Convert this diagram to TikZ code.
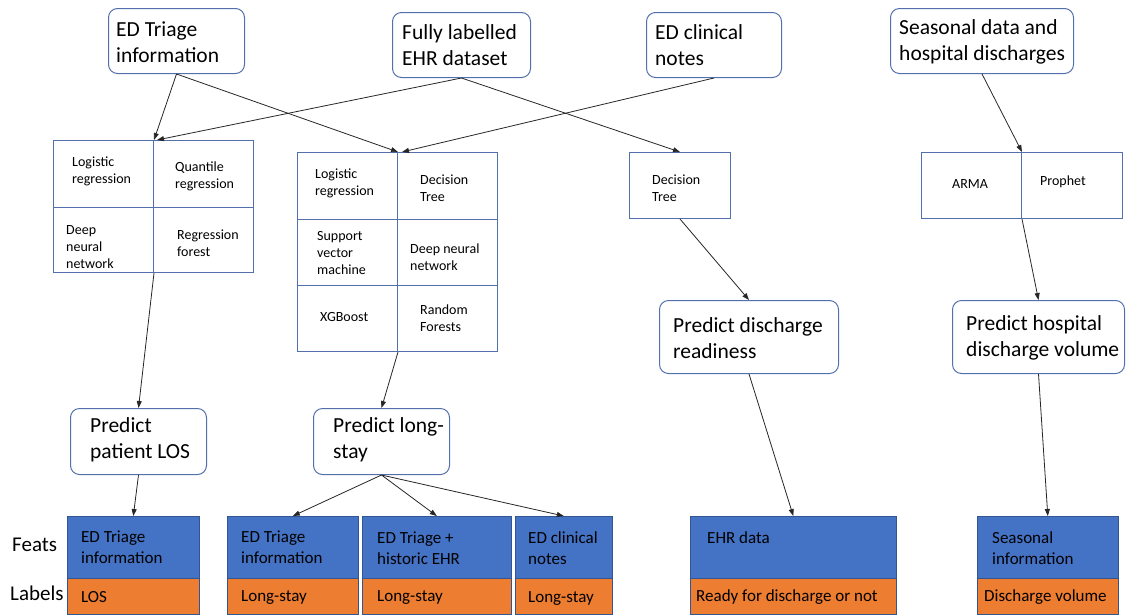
\documentclass[tikz,border=0pt]{standalone}
\usepackage{fontspec}
\setmainfont{Carlito}
\usetikzlibrary{arrows.meta}
\definecolor{edge}{RGB}{84,112,172}
\definecolor{featblue}{RGB}{68,114,196}
\definecolor{labelorange}{RGB}{237,125,49}
\begin{document}
\begin{tikzpicture}[x=1pt,y=-1pt,
  src/.style={draw=edge, line width=1pt, rounded corners=9pt, fill=white, anchor=north west, inner sep=0pt},
  cell/.style={draw=edge, line width=1pt, fill=white, anchor=north west, inner sep=0pt},
  feat/.style={draw=featblue!75!black, line width=0.6pt, fill=featblue, anchor=north west, inner sep=0pt, minimum height=62},
  lab/.style={draw=featblue!75!black, line width=0.6pt, fill=labelorange, anchor=north west, inner sep=0pt, minimum height=36},
  bigtxt/.style={anchor=west, align=left, inner sep=0pt, font=\fontsize{21.5}{26}\selectfont},
  smalltxt/.style={anchor=west, align=left, inner sep=0pt, font=\fontsize{14}{17}\selectfont},
  feattxt/.style={anchor=west, align=left, inner sep=0pt, font=\fontsize{17}{20.5}\selectfont},
  sidetxt/.style={anchor=west, inner sep=0pt, font=\fontsize{21}{25}\selectfont},
  arr/.style={-{Triangle[length=7pt,width=5pt]}, line width=0.8pt, black!85}]
\useasboundingbox (0,0) rectangle (1131,614);

% data sources
\node[src, minimum width=136, minimum height=65] (triage) at (108,8) {};
\node[src, minimum width=138, minimum height=65] (ehrset) at (392,12) {};
\node[src, minimum width=135, minimum height=65] (notes) at (646,12) {};
\node[src, minimum width=183, minimum height=65] (season) at (890,8) {};
\node[bigtxt] (triage-t) at (116,42) {ED Triage\\information};
\node[bigtxt] (ehrset-t) at (402,45) {Fully labelled\\EHR dataset};
\node[bigtxt] (notes-t) at (655,45) {ED clinical\\notes};
\node[bigtxt] (season-t) at (899,42) {Seasonal data and\\hospital discharges};

% LOS models
\node[cell, minimum width=100, minimum height=67] (lg11) at (53,140) {};
\node[cell, minimum width=100, minimum height=67] (lg12) at (153,140) {};
\node[cell, minimum width=100, minimum height=65] (lg21) at (53,207) {};
\node[cell, minimum width=100, minimum height=65] (lg22) at (153,207) {};
\node[smalltxt] (lg11-t) at (72,171) {Logistic\\regression};
\node[smalltxt] (lg12-t) at (175,176) {Quantile\\regression};
\node[smalltxt] (lg21-t) at (66,247) {Deep\\neural\\network};
\node[smalltxt] (lg22-t) at (177,243) {Regression\\forest};

% long-stay models
\node[cell, minimum width=100, minimum height=67] (mg11) at (297,152) {};
\node[cell, minimum width=100, minimum height=67] (mg12) at (397,152) {};
\node[cell, minimum width=100, minimum height=66] (mg21) at (297,219) {};
\node[cell, minimum width=100, minimum height=66] (mg22) at (397,219) {};
\node[cell, minimum width=100, minimum height=66] (mg31) at (297,285) {};
\node[cell, minimum width=100, minimum height=66] (mg32) at (397,285) {};
\node[smalltxt] (mg11-t) at (315,183) {Logistic\\regression};
\node[smalltxt] (mg12-t) at (420,188) {Decision\\Tree};
\node[smalltxt] (mg21-t) at (317,253) {Support\\vector\\machine};
\node[smalltxt] (mg22-t) at (410,257) {Deep neural\\network};
\node[smalltxt] (mg31-t) at (320,317) {XGBoost};
\node[smalltxt] (mg32-t) at (420,318) {Random\\Forests};

% discharge readiness model
\node[cell, minimum width=101, minimum height=66] (dt) at (629,152) {};
\node[smalltxt] (dt-t) at (652,188) {Decision\\Tree};

% discharge volume models
\node[cell, minimum width=100, minimum height=66] (arma) at (921,152) {};
\node[cell, minimum width=101, minimum height=66] (prophet) at (1021,152) {};
\node[smalltxt] (arma-t) at (952,184) {ARMA};
\node[smalltxt] (prophet-t) at (1040,182) {Prophet};

% prediction tasks
\node[src, minimum width=136, minimum height=66] (los) at (70,408) {};
\node[src, minimum width=136, minimum height=66] (lst) at (313,408) {};
\node[src, minimum width=179, minimum height=73] (ready) at (659,300) {};
\node[src, minimum width=172, minimum height=73] (hosp) at (952,300) {};
\node[bigtxt] (los-t) at (90,440) {Predict\\patient LOS};
\node[bigtxt] (lst-t) at (333,440) {Predict long-\\stay};
\node[bigtxt] (ready-t) at (673,338) {Predict discharge\\readiness};
\node[bigtxt] (hosp-t) at (966,338) {Predict hospital\\discharge volume};

% features and labels
\node[sidetxt] (feats) at (12,545) {Feats};
\node[sidetxt] (labels) at (10,593) {Labels};

\node[feat, minimum width=132] (f1) at (67,516) {};
\node[lab, minimum width=132] (l1) at (67,578) {};
\node[feat, minimum width=131] (f2) at (227,516) {};
\node[lab, minimum width=131] (l2) at (227,578) {};
\node[feat, minimum width=149] (f3) at (362,516) {};
\node[lab, minimum width=149] (l3) at (362,578) {};
\node[feat, minimum width=97] (f4) at (515,516) {};
\node[lab, minimum width=97] (l4) at (515,578) {};
\node[feat, minimum width=206] (f5) at (690,516) {};
\node[lab, minimum width=206] (l5) at (690,578) {};
\node[feat, minimum width=141] (f6) at (977,516) {};
\node[lab, minimum width=141] (l6) at (977,578) {};

\node[feattxt] (f1-t) at (81,547) {ED Triage\\information};
\node[feattxt] (f2-t) at (241,547) {ED Triage\\information};
\node[feattxt] (f3-t) at (377,548) {ED Triage +\\historic EHR};
\node[feattxt] (f4-t) at (528,548) {ED clinical\\notes};
\node[feattxt] (f5-t) at (707,538) {EHR data};
\node[feattxt] (f6-t) at (992,548) {Seasonal\\information};
\node[feattxt] (l1-t) at (81,597) {LOS};
\node[feattxt] (l2-t) at (241,597) {Long-stay};
\node[feattxt] (l3-t) at (377,597) {Long-stay};
\node[feattxt] (l4-t) at (528,598) {Long-stay};
\node[feattxt] (l5-t) at (696,597) {Ready for discharge or not};
\node[feattxt] (l6-t) at (984,597) {Discharge volume};

% connectors
\draw[arr] (triage.south) -- (lg11.north east);
\draw[arr] (triage.south) -- (mg11.north east);
\draw[arr] (ehrset.south) -- ([xshift=3pt]lg11.north east);
\draw[arr] (ehrset.south) -- (dt.north);
\draw[arr] (notes.south) -- ([xshift=4pt]mg11.north east);
\draw[arr] (season.south) -- (arma.north east);
\draw[arr] (lg21.south east) -- (los.north);
\draw[arr] (mg31.south east) -- (lst.north);
\draw[arr] (dt.south) -- (ready.north);
\draw[arr] (arma.south east) -- (hosp.north);
\draw[arr] (los.south) -- (f1.north);
\draw[arr] (lst.south) -- (f2.north);
\draw[arr] (lst.south) -- (f3.north);
\draw[arr] (lst.south) -- (f4.north);
\draw[arr] (ready.south) -- (f5.north);
\draw[arr] (hosp.south) -- (f6.north);
\end{tikzpicture}
\end{document}
